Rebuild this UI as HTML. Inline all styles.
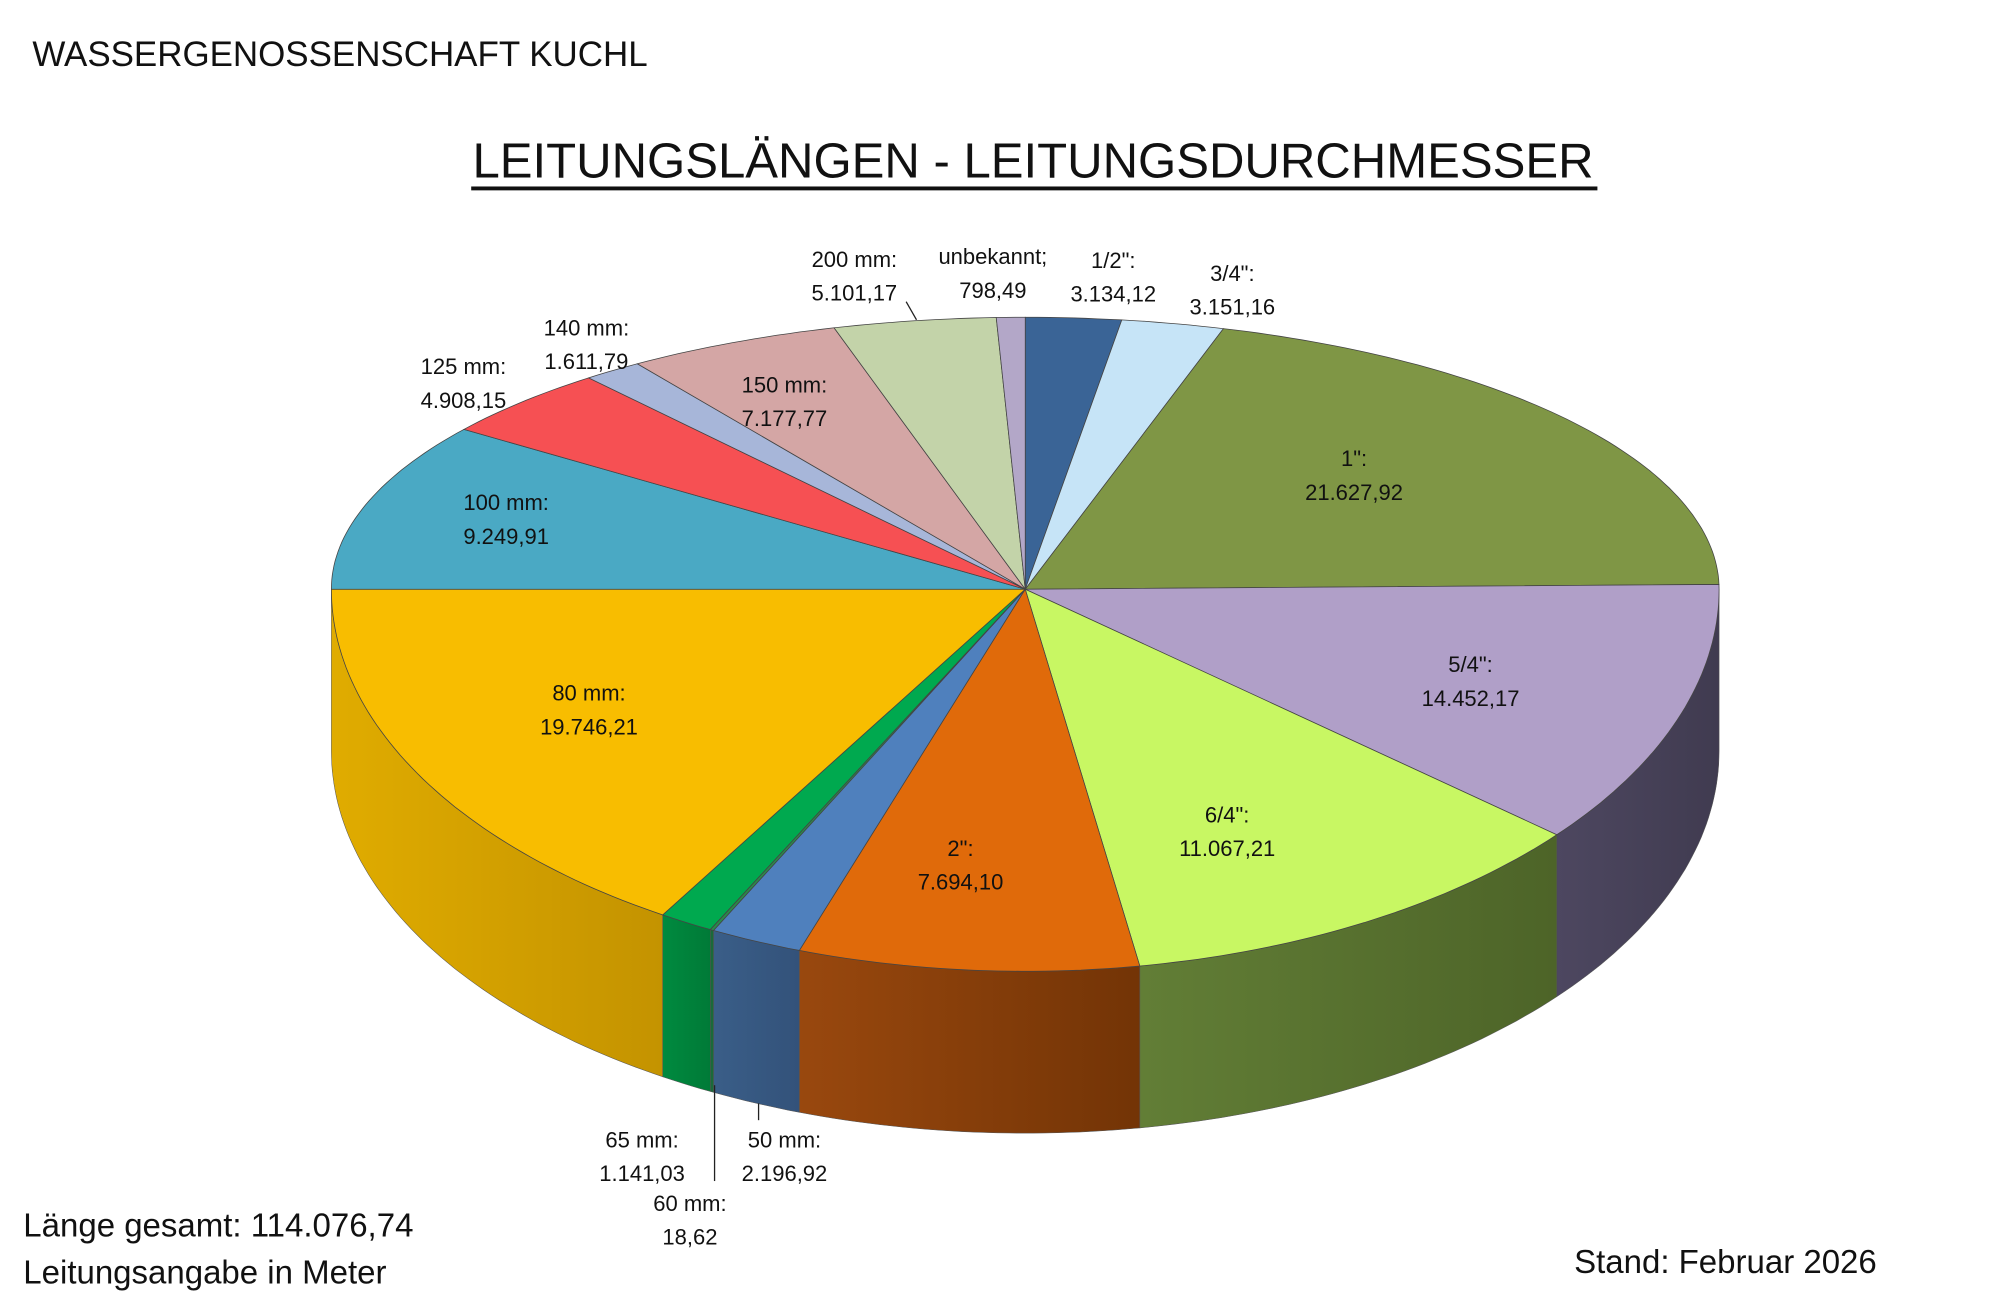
<!DOCTYPE html>
<html><head><meta charset="utf-8">
<style>
html,body{margin:0;padding:0;background:#fff;}
svg{display:block;}
text{font-family:"Liberation Sans",sans-serif;fill:#111;}
</style></head>
<body>
<svg id="s" width="2000" height="1295" viewBox="0 0 1545 1000" preserveAspectRatio="none" xmlns="http://www.w3.org/2000/svg">
<rect width="1545" height="1000" fill="#fff"/>
<text x="25" y="51" font-size="27">WASSERGENOSSENSCHAFT  KUCHL</text>
<text x="798" y="137" font-size="38" text-anchor="middle" textLength="866" lengthAdjust="spacingAndGlyphs">LEITUNGSLÄNGEN - LEITUNGSDURCHMESSER</text>
<rect x="364" y="144" width="870" height="3" fill="#111"/>
<defs id="defs"></defs>
<g id="pie"></g>
<g id="lab" font-size="17" text-anchor="middle"></g>
<text x="18" y="955" font-size="25.5">Länge gesamt: 114.076,74</text>
<text x="18" y="991" font-size="25.5">Leitungsangabe in Meter</text>
<text x="1216" y="983" font-size="25.5">Stand: Februar 2026</text>
</svg>
<script>
const d=[
["#3a6496","#2a4a70","#2a4a70"],
["#c6e4f7","#90a8b8","#90a8b8"],
["#7f9645","#5a6e30","#5a6e30"],
["#b09fc8","#4d4760","#403b50"],
["#c8f763","#627e36","#4d6428"],
["#e06a0a","#99480e","#733406"],
["#4f80bd","#3a5e88","#33527a"],
["#2a8a4a","#1a6a3a","#1a6a3a"],
["#00a94f","#008a3f","#007a37"],
["#f8bd00","#e0ac00","#c49300"],
["#4aa9c4","#357f94","#357f94"],
["#f65053","#b03a3c","#b03a3c"],
["#a7b6d9","#7886a0","#7886a0"],
["#d4a6a5","#a07a7a","#a07a7a"],
["#c3d3a9","#909c7c","#909c7c"],
["#b3a7c8","#857b96","#857b96"]];
const B=[0,8,16.6,89,130,170.5,199,206.7,207,211.5,270,306,321,326,344,357.6,360];
const cx=792,cy=455,rx=536,ryT=210,ryB=295,dep=125;
function P(a){const r=a*Math.PI/180;const c=-Math.cos(r);return [cx+rx*Math.sin(r),cy+(c<0?ryT:ryB)*c];}
function arc(a,b){let s="";const n=Math.max(2,Math.ceil((b-a)/1));for(let i=0;i<=n;i++){const p=P(a+(b-a)*i/n);s+=(i?"L":"M")+p[0].toFixed(1)+","+p[1].toFixed(1);}return s;}
let g="",sides="",defs="";
d.forEach((x,i)=>{const a=B[i],b=B[i+1];
 const s=Math.max(a,90),e=Math.min(b,270);
 if(e>s){let top=arc(s,e);let pts=[];const n=Math.ceil(e-s);for(let k=n;k>=0;k--){const p=P(s+(e-s)*k/n);pts.push("L"+p[0].toFixed(1)+","+(p[1]+dep).toFixed(1));}
  const x1=Math.min(P(s)[0],P(e)[0]),x2=Math.max(P(s)[0],P(e)[0]);
  defs+=`<linearGradient id="g${i}" gradientUnits="userSpaceOnUse" x1="${x1}" y1="0" x2="${x2}" y2="0"><stop offset="0" stop-color="${x[1]}"/><stop offset="1" stop-color="${x[2]}"/></linearGradient>`;
  sides+=`<path d="${top}${pts.join("")}Z" fill="url(#g${i})" stroke="#555" stroke-width="0.4"/>`;}
 g+=`<path d="M${cx},${cy}L${arc(a,b).slice(1)}Z" fill="${x[0]}" stroke="#444" stroke-width="0.6"/>`;
});
document.getElementById("defs").innerHTML=defs;
document.getElementById("pie").innerHTML=sides+g+
`<line x1="700" y1="233" x2="708" y2="247" stroke="#222"/>
<line x1="552" y1="838" x2="552" y2="912" stroke="#222"/>
<line x1="586" y1="852" x2="586" y2="865" stroke="#222"/>`;
const L=[[660,206,"200 mm:","5.101,17"],[767,204,"unbekannt;","798,49"],[860,207,"1/2\":","3.134,12"],[952,217,"3/4\":","3.151,16"],
[453,259,"140 mm:","1.611,79"],[358,289,"125 mm:","4.908,15"],[606,303,"150 mm:","7.177,77"],[391,394,"100 mm:","9.249,91"],
[1046,360,"1\":","21.627,92"],[1136,519,"5/4\":","14.452,17"],[948,635,"6/4\":","11.067,21"],[742,661,"2\":","7.694,10"],
[455,541,"80 mm:","19.746,21"],[496,886,"65 mm:","1.141,03"],[606,886,"50 mm:","2.196,92"],[533,935,"60 mm:","18,62"]];
document.getElementById("lab").innerHTML=L.map(l=>`<text x="${l[0]}" y="${l[1]}">${l[2]}</text><text x="${l[0]}" y="${l[1]+26}">${l[3]}</text>`).join("");
</script>
</body></html>
